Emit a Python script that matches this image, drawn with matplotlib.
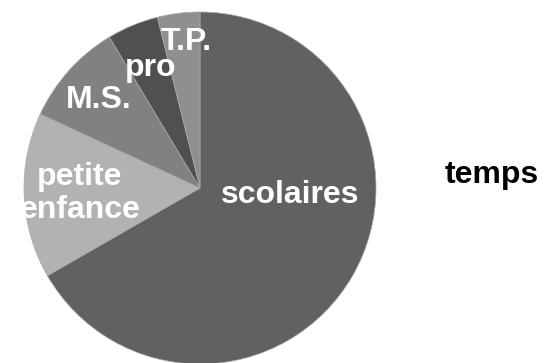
import matplotlib
matplotlib.use("Agg")
import matplotlib.pyplot as plt

# Share of time by category (percent)
categories = ["scolaires", "petite enfance", "M.S.", "pro", "T.P."]
values = [66.7, 15.2, 9.5, 4.7, 3.9]
colors = ["#616161", "#b2b2b2", "#818181", "#505050", "#8f8f8f"]

W, H = 545, 363
fig = plt.figure(figsize=(W / 100, H / 100), dpi=100)
ax = fig.add_axes([0, 0, 1, 1])

cx, cy, r = 200, H - 188, 176
ax.pie(values, colors=colors, startangle=90, counterclock=False,
       center=(cx, cy), radius=r, frame=True,
       wedgeprops=dict(edgecolor="#a8a8a8", linewidth=0.5))
ax.set_xlim(0, W)
ax.set_ylim(0, H)
ax.set_aspect("equal")
ax.axis("off")

font = dict(family=["Liberation Sans", "DejaVu Sans"], fontweight="bold",
            fontsize=23)

# label anchors (centre x, baseline y in pixels from top)
label_pos = [
    ("scolaires", 290, 203),
    ("petite", 80, 185),
    ("enfance", 80, 218),
    ("M.S.", 99, 108),
    ("pro", 151, 76),
    ("T.P.", 186, 50),
]
for txt, x, yb in label_pos:
    ax.text(x, H - yb, txt, color="white", ha="center", va="baseline", **font)

ax.text(492, H - 183, "temps", color="black", ha="center", va="baseline",
        **font)

fig.savefig("out.png", dpi=100)
